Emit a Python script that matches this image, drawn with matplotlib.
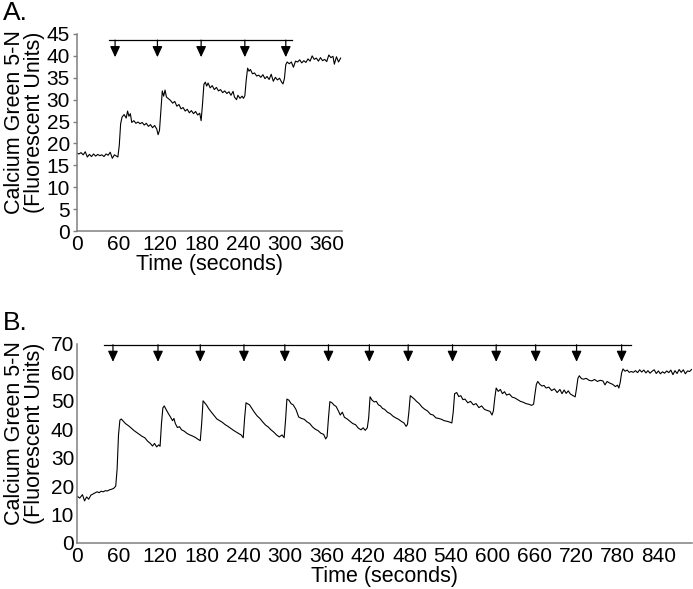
import numpy as np
import matplotlib
matplotlib.use('Agg')
import matplotlib.pyplot as plt

plt.rcParams['font.family'] = ['Liberation Sans', 'DejaVu Sans']

# ---- panel A : trace ----
tA = [0, 3, 6, 9, 12, 15, 18, 21, 24, 27, 30, 33, 36, 39, 42, 45, 48, 51, 54, 57, 59,
      61, 63, 65, 68, 71, 73, 75, 77, 79, 82, 85, 88, 91, 94, 97, 100, 103, 106, 109, 112, 115, 117, 119,
      121, 123, 125, 127, 129, 132, 135, 138, 141, 144, 147, 150, 153, 156, 159, 162, 165, 168, 171, 174, 177, 179,
      181, 183, 185, 187, 189, 192, 195, 198, 201, 204, 207, 210, 213, 216, 219, 222, 225, 227, 230, 232, 235, 238, 240, 242,
      244, 246, 248, 250, 253, 256, 259, 262, 265, 268, 271, 274, 277, 280, 283, 286, 289, 292, 295, 297, 299,
      301, 303, 306, 309, 312, 315, 318, 321, 324, 327, 330, 333, 336, 339, 342, 345, 348, 351, 354, 357, 360,
      363, 366, 369, 371, 374, 377, 380]
vA = [17.8, 17.6, 17.9, 17.4, 18.1, 16.9, 17.5, 17.0, 17.6, 17.1, 17.5, 17.2, 17.4, 17.0, 17.6, 17.3, 18.0, 16.6, 17.4, 17.1, 16.9,
      19.5, 24.5, 26.0, 26.6, 25.8, 27.4, 26.2, 26.8, 24.8, 25.2, 24.6, 24.9, 24.5, 24.8, 24.2, 24.6, 23.9, 24.3, 23.6, 24.1, 23.3, 22.0, 23.0,
      27.5, 32.0, 30.8, 32.2, 30.6, 30.2, 29.8, 29.2, 29.6, 28.5, 28.9, 27.9, 28.2, 27.4, 27.8, 27.0, 27.5, 26.8, 27.3, 26.5, 26.9, 25.2,
      29.0, 33.5, 34.0, 33.1, 33.8, 32.7, 33.2, 32.3, 32.8, 32.0, 32.3, 31.6, 32.0, 31.4, 31.8, 31.0, 31.9, 30.6, 30.0, 31.0, 30.3, 30.8, 30.3, 30.9,
      34.5, 37.2, 36.5, 36.9, 35.9, 36.1, 35.4, 35.6, 35.1, 35.7, 34.8, 35.3, 34.6, 35.8, 34.2, 35.1, 34.5, 34.9, 34.0, 33.6, 34.8,
      38.0, 38.6, 38.2, 38.6, 37.4, 38.8, 38.6, 39.1, 38.4, 38.9, 38.5, 39.3, 38.8, 40.0, 39.2, 39.5, 38.8, 39.6, 38.9, 39.2, 38.7,
      40.2, 39.6, 39.9, 38.1, 39.8, 38.6, 39.5]
arrowsA = [55, 116, 179, 242, 301]

# ---- panel B ----
tB = [0, 4, 8, 11, 14, 17, 20, 23, 26, 29, 32, 35, 38, 41, 44, 47, 50, 53, 56, 58,
      60, 62, 64, 67, 70, 74, 78, 82, 86, 90, 94, 98, 102, 106, 109, 112, 115, 118, 120,
      122, 124, 126, 129, 132, 135, 138, 140, 142, 145, 148, 151, 155, 159, 163, 167, 171, 175, 178,
      180, 182, 184, 187, 190, 194, 198, 202, 206, 210, 214, 218, 222, 226, 230, 234, 237, 240,
      242, 244, 246, 249, 252, 256, 260, 264, 268, 272, 276, 280, 284, 288, 292, 296, 299,
      301, 303, 306, 309, 312, 316, 320, 324, 328, 332, 336, 340, 344, 348, 352, 356, 359, 361,
      363, 365, 368, 371, 374, 377, 380, 383, 386, 390, 394, 398, 402, 406, 410, 413, 416, 419,
      421, 423, 426, 429, 432, 435, 438, 441, 444, 448, 452, 456, 460, 464, 468, 472, 475, 477,
      479, 481, 484, 487, 490, 494, 498, 502, 506, 510, 514, 518, 522, 526, 530, 534, 538, 541,
      543, 545, 548, 551, 554, 557, 560, 564, 568, 572, 576, 580, 584, 588, 592, 596, 599,
      601, 603, 605, 608, 611, 614, 617, 620, 624, 628, 632, 636, 640, 644, 648, 652, 656, 659,
      661, 663, 665, 668, 671, 674, 677, 681, 685, 689, 693, 697, 700, 703, 706, 709, 712, 716, 719,
      721, 723, 725, 728, 731, 735, 739, 743, 747, 751, 755, 759, 762, 765, 769, 773, 777, 780, 782,
      784, 786, 788, 791, 794, 797, 800, 803, 806, 809, 812, 815, 818, 821, 824, 827, 830, 833, 836,
      839, 842, 845, 848, 851, 854, 857, 860, 863, 866, 869, 872, 875, 878, 881, 884, 887]
vB = [16.5, 15.8, 17.0, 14.8, 16.2, 15.4, 16.8, 17.2, 17.6, 18.0, 17.7, 18.2, 18.0, 18.4, 18.3, 18.7, 18.9, 19.2, 20.0, 26.0,
      38.0, 43.2, 43.6, 42.8, 42.0, 41.3, 40.5, 39.6, 38.9, 38.2, 37.5, 37.0, 35.8, 35.0, 34.1, 35.0, 33.8, 34.5, 34.0,
      42.0, 47.5, 48.2, 46.8, 45.5, 44.3, 43.0, 43.8, 42.0, 40.6, 40.9, 39.8, 39.3, 38.5, 38.0, 37.6, 37.1, 36.4, 36.0,
      42.0, 50.0, 49.4, 48.5, 47.3, 46.0, 44.8, 43.6, 43.0, 42.4, 41.6, 41.0, 40.3, 39.6, 39.0, 38.4, 38.0, 37.0,
      44.0, 49.3, 49.0, 48.6, 47.5, 46.0, 44.7, 43.8, 42.6, 41.5, 40.8, 39.8, 39.0, 38.0, 37.3, 38.0, 37.0,
      43.0, 50.6, 50.2, 49.0, 48.6, 47.0, 44.3, 43.8, 43.5, 42.6, 42.0, 40.8, 40.0, 39.5, 38.6, 38.2, 36.6, 37.4,
      44.0, 49.7, 49.3, 48.5, 48.0, 46.6, 45.0, 46.0, 44.2, 43.6, 42.8, 42.0, 41.6, 40.4, 39.8, 40.5, 39.6, 40.5,
      44.0, 51.4, 50.2, 49.6, 49.8, 48.6, 48.2, 47.3, 47.0, 46.0, 45.5, 44.6, 44.0, 43.5, 42.8, 42.2, 41.0, 41.7,
      46.0, 51.8, 51.2, 50.6, 49.8, 49.0, 47.8, 47.0, 46.4, 45.3, 45.0, 44.0, 43.8, 43.5, 43.0, 42.8, 42.5, 42.2,
      46.0, 52.5, 52.9, 51.5, 51.8, 50.4, 50.6, 49.3, 49.8, 48.6, 49.0, 47.6, 48.2, 47.0, 46.6, 46.3, 45.0,
      46.5, 51.0, 54.5, 53.3, 54.0, 52.5, 53.2, 52.0, 52.4, 51.3, 51.0, 50.4, 49.8, 49.5, 49.0, 48.8, 48.4, 48.8,
      52.5, 55.8, 56.8, 55.8, 55.2, 55.4, 54.5, 54.8, 53.6, 54.2, 52.9, 54.0, 52.5, 53.8, 52.6, 53.5, 52.4, 51.8, 51.4,
      54.5, 58.0, 58.8, 57.8, 57.6, 57.9, 57.2, 57.0, 57.5, 56.8, 57.2, 57.0, 55.6, 56.8, 56.2, 55.8, 55.0, 55.5, 54.5,
      56.5, 59.8, 61.2, 60.4, 60.8, 60.0, 60.3, 60.0, 60.6, 59.9, 60.9, 60.1, 60.8, 59.8, 60.6, 59.7, 60.4, 60.9, 59.6,
      60.5, 59.5, 60.2, 59.7, 60.5, 59.9, 60.8, 59.2, 60.6, 59.6, 61.0, 60.0, 60.9, 59.5, 60.5, 60.3, 61.0]
arrowsB = [52, 117, 178, 241, 300, 363, 422, 478, 542, 605, 662, 721, 786]

ylabel = 'Calcium Green 5-N\n(Fluorescent Units)'
spine_col = '#808080'


def style(ax, ticklen):
    for s in ['top', 'right']:
        ax.spines[s].set_visible(False)
    for s in ['left', 'bottom']:
        ax.spines[s].set_color(spine_col)
        ax.spines[s].set_linewidth(1.1)
    ax.tick_params(axis='y', length=ticklen, width=1, color=spine_col, labelsize=15, pad=2)
    ax.tick_params(axis='x', length=0, labelsize=15, pad=3)


def arrows(ax, xs, bar_y, tip_y, x0, x1):
    ax.plot([x0, x1], [bar_y, bar_y], color='k', lw=0.9, clip_on=False)
    for x in xs:
        ax.annotate('', xy=(x, tip_y), xytext=(x, bar_y),
                    arrowprops=dict(arrowstyle='-|>,head_length=0.65,head_width=0.3',
                                    color='k', lw=0.9, mutation_scale=10,
                                    shrinkA=0, shrinkB=0))


fig = plt.figure(figsize=(6.93, 5.89), dpi=100)

axA = fig.add_axes([0.111, 0.6078, 0.3825, 0.3345])
axA.plot(tA, vA, color='k', lw=0.8)
axA.set_xlim(0, 382)
axA.set_ylim(0, 45)
axA.set_xticks(np.arange(0, 361, 60))
axA.set_yticks(np.arange(0, 46, 5))
style(axA, 3)
arrows(axA, arrowsA, 43.6, 39.7, 46, 310)
axA.set_xlabel('Time (seconds)', fontsize=15.5, labelpad=0)
axA.set_ylabel(ylabel, fontsize=15.5, linespacing=0.95)
axA.yaxis.set_label_coords(-0.121, 0.553)

axB = fig.add_axes([0.111, 0.0781, 0.888, 0.338])
axB.plot(tB, vB, color='k', lw=0.8)
axB.set_xlim(0, 888)
axB.set_ylim(0, 70)
axB.set_xticks(np.arange(0, 841, 60))
axB.set_yticks(np.arange(0, 71, 10))
style(axB, 0)
arrows(axB, arrowsB, 69.7, 63.7, 39, 799)
axB.set_xlabel('Time (seconds)', fontsize=15.5, labelpad=0)
axB.set_ylabel(ylabel, fontsize=15.5, linespacing=0.95)
axB.yaxis.set_label_coords(-0.052, 0.553)

fig.text(0.004, 0.998, 'A.', fontsize=19, ha='left', va='top')
fig.text(0.004, 0.472, 'B.', fontsize=19, ha='left', va='top')

fig.savefig('out.png', dpi=100)
